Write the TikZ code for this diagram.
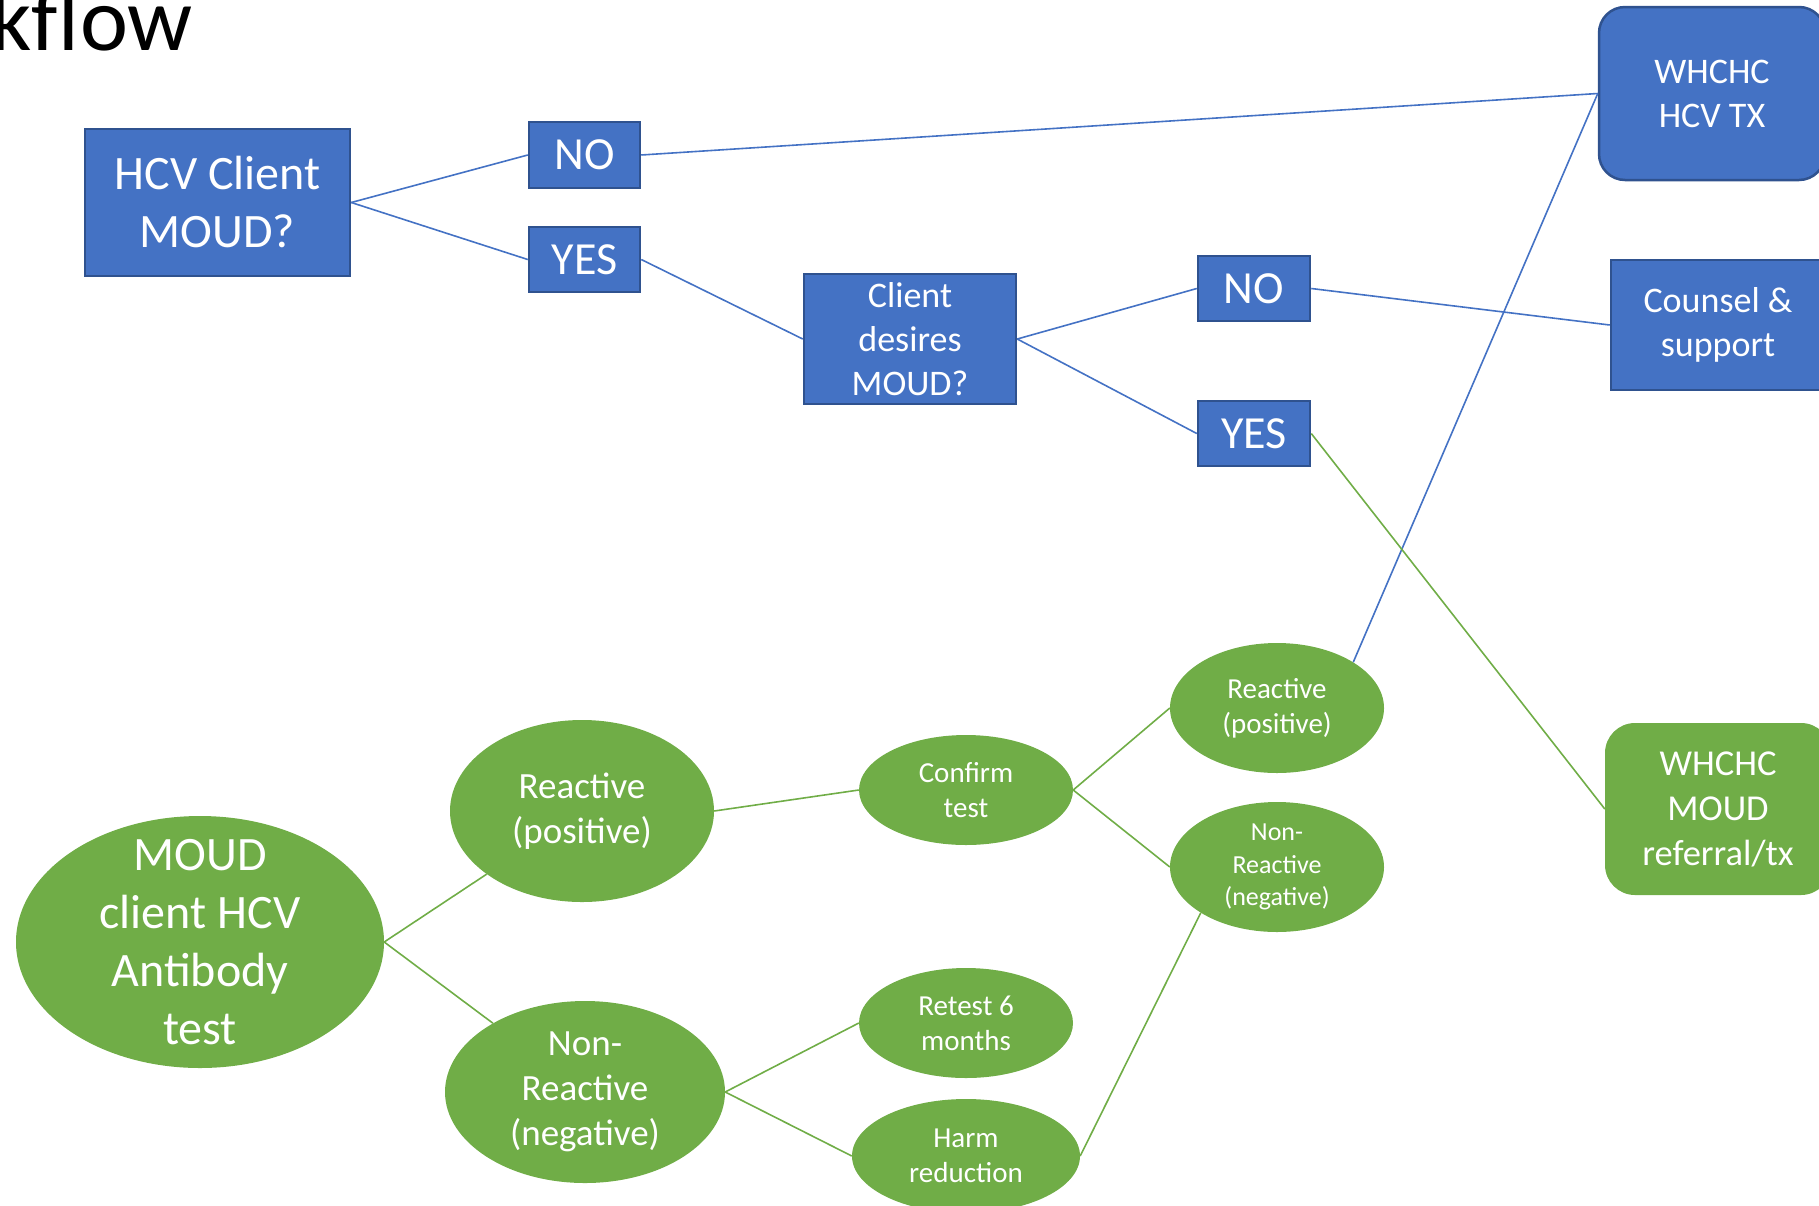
\documentclass[tikz,border=0pt]{standalone}
\usepackage{fontspec}
\setmainfont{Carlito}
\usetikzlibrary{shapes.geometric}
\definecolor{boxblue}{HTML}{4472C4}
\definecolor{boxedge}{HTML}{2F528F}
\definecolor{ovgreen}{HTML}{70AD47}
\tikzset{
  fs/.style 2 args={font=\fontsize{#1}{#2}\selectfont},
  qbox/.style={rectangle, fill=boxblue, draw=boxedge, line width=2.5pt, text=white, align=center, inner sep=0pt},
  rbox/.style={rectangle, rounded corners=26pt, fill=boxblue, draw=boxedge, line width=2.5pt, text=white, align=center, inner sep=0pt},
  gbox/.style={rectangle, rounded corners=30pt, fill=ovgreen, text=white, align=center, inner sep=0pt},
  oval/.style={ellipse, fill=ovgreen, inner sep=0pt},
  otext/.style={text=white, align=center, inner sep=0pt},
  bl/.style={draw=boxblue, line width=1.6pt},
  gl/.style={draw=ovgreen, line width=1.6pt},
}
\begin{document}
\begin{tikzpicture}[x=1pt,y=-1pt]
\useasboundingbox (0,0) rectangle (1819,1205);
\begin{scope}
\clip (0,0) rectangle (1819,1205);
\node[anchor=base east, inner sep=0pt, fs={91}{100}] (title) at (193,50) {kflow};

% blue boxes
\node[qbox, minimum width=265pt, minimum height=147pt, fs={48}{58}] (hcv) at (217.5,202.5) {HCV Client\\MOUD?};
\node[qbox, minimum width=111pt, minimum height=66pt, fs={46}{56}] (no1) at (584.5,155) {NO};
\node[qbox, minimum width=111pt, minimum height=65pt, fs={46}{56}] (yes1) at (584.5,259.5) {YES};
\node[qbox, minimum width=212pt, minimum height=130pt, fs={36}{44}] (cd) at (910,339) {Client\\desires\\MOUD?};
\node[qbox, minimum width=112pt, minimum height=65pt, fs={46}{56}] (no2) at (1254,288.5) {NO};
\node[qbox, minimum width=112pt, minimum height=65pt, fs={46}{56}] (yes2) at (1254,433.5) {YES};
\node[rbox, minimum width=226pt, minimum height=173pt, fs={36}{44}] (tx) at (1712,93.5) {WHCHC\\HCV TX};
\node[qbox, minimum width=214pt, minimum height=130pt, fs={36}{44}] (couns) at (1718,325) {Counsel \&\\support};
\node[gbox, minimum width=226pt, minimum height=172pt, fs={36.5}{45}] (mref) at (1718,809) {WHCHC\\MOUD\\referral/tx};

% green ovals
\node[oval, minimum width=368pt, minimum height=252pt] (moud) at (200,942) {};
\node[otext, fs={48}{58}] (moudt) at (moud.center) {MOUD\\client HCV\\Antibody\\test};
\node[oval, minimum width=264pt, minimum height=182pt] (r1) at (582,811) {};
\node[otext, fs={37}{45}] (r1t) at (r1.center) {Reactive\\(positive)};
\node[oval, minimum width=280pt, minimum height=182pt] (nr1) at (585,1092) {};
\node[otext, fs={37}{45}] (nr1t) at (nr1.center) {Non-\\Reactive\\(negative)};
\node[oval, minimum width=214pt, minimum height=110pt] (conf) at (966,790) {};
\node[otext, fs={29}{35}] (conft) at (conf.center) {Confirm\\test};
\node[oval, minimum width=214pt, minimum height=110pt] (retest) at (966,1023) {};
\node[otext, fs={29}{35}] (retestt) at (retest.center) {Retest 6\\months};
\node[oval, minimum width=228pt, minimum height=114pt] (harm) at (966,1156) {};
\node[otext, fs={29}{35}] (harmt) at (harm.center) {Harm\\reduction};
\node[oval, minimum width=214pt, minimum height=130pt] (r2) at (1277,708) {};
\node[otext, fs={29}{35}] (r2t) at (r2.center) {Reactive\\(positive)};
\node[oval, minimum width=214pt, minimum height=130pt] (nr2) at (1277,867) {};
\node[otext, fs={26}{32.5}] (nr2t) at (nr2.center) {Non-\\Reactive\\(negative)};

% blue connectors
\draw[bl] (hcv.east) -- (no1.west);
\draw[bl] (hcv.east) -- (yes1.west);
\draw[bl] (no1.east) -- (tx.west);
\draw[bl] (yes1.east) -- (cd.west);
\draw[bl] (cd.east) -- (no2.west);
\draw[bl] (cd.east) -- (yes2.west);
\draw[bl] (no2.east) -- (couns.west);
\draw[bl] (r2.31) -- (tx.west);

% green connectors
\draw[gl] (yes2.east) -- (mref.west);
\draw[gl] (moud.east) -- (r1);
\draw[gl] (moud.east) -- (nr1);
\draw[gl] (r1.east) -- (conf.west);
\draw[gl] (conf.east) -- (r2.west);
\draw[gl] (conf.east) -- (nr2.west);
\draw[gl] (nr1.east) -- (retest.west);
\draw[gl] (nr1.east) -- (harm.west);
\draw[gl] (harm.east) -- (nr2.211);
\end{scope}
\end{tikzpicture}
\end{document}
